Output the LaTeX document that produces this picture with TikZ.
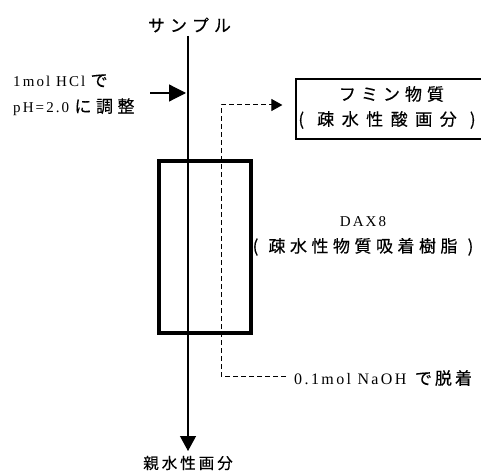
\documentclass[tikz,border=0pt]{standalone}
\usepackage{fontspec}
\setmainfont{Liberation Serif}[LetterSpace=14]
\newfontfamily\naohfont{Liberation Serif}[LetterSpace=15]
\newfontfamily\jp{Noto Sans CJK JP}[FakeBold=0.4]
\makeatletter
\newcommand\cj[2][21.5pt]{{\fontsize{17}{26}\selectfont\jp\@tfor\cjc:=#2\do{\makebox[#1]{\cjc}}}}
\newcommand\cjs[2][18.5pt]{{\fontsize{15.5}{26}\selectfont\jp\@tfor\cjc:=#2\do{\makebox[#1]{\cjc}}}}
\makeatother
\usetikzlibrary{arrows.meta}
\begin{document}
\begin{tikzpicture}[x=1pt,y=-1pt,
  txt/.style={inner sep=0pt,font=\fontsize{15}{26}\selectfont},
  flow/.style={line width=1.2pt},
  dashlink/.style={line width=1pt,dash pattern=on 5pt off 3pt}]
\useasboundingbox (0,0) rectangle (481,473);
% labels
\node[txt] (sample) at (189.5,25) {\cj[22pt]{サンプル}};
\node[txt] (hydro) at (188,463) {\cjs{親水性画分}};
\node[txt,align=left,anchor=west] (hcl) at (13,95) {1mol HCl\hspace{3pt}\cj{で}\\pH=2.0\hspace{3pt}\cj{に調整}};
\node[txt,align=center] (dax) at (363,236) {DAX8\\\cj{(疎水性物質吸着樹脂)}};
\node[txt,anchor=west,font=\fontsize{16}{26}\selectfont\naohfont] (naoh) at (294,378) {0.1mol NaOH\hspace{7pt}\cj[20pt]{で脱着}};
% boxes
\node[draw,line width=1.2pt,minimum width=189pt,minimum height=60pt,inner sep=0pt] (fumin) at (390.5,109) {};
\node[txt] (fumin1) at (391.5,94) {\cj[22pt]{フミン物質}};
\node[txt] (fumin2) at (387,120) {\cj[24.5pt]{(疎水性酸画分)}};
\node[draw,line width=4pt,minimum width=92pt,minimum height=172pt,inner sep=0pt] (col) at (205,247) {};
% main flow
\coordinate (top) at (188,36);
\coordinate (bot) at (188,451);
\draw[flow,-{Triangle[width=16pt,length=15pt]}] (top) -- (bot);
% acid arrow
\coordinate (a1) at (150,93);
\coordinate (a2) at (186,93);
\draw[flow,-{Triangle[width=17pt,length=17pt]}] (a1) -- (a2);
% dashed elution path
\coordinate (d0) at (286,376);
\coordinate (d1) at (221,376);
\coordinate (d2) at (221,105);
\draw[dashlink,-{Triangle[width=12pt,length=11pt]}] (d0) -- (d1) -- (d2) -- ([xshift=-13pt]d2 -| fumin.west);
\end{tikzpicture}
\end{document}
